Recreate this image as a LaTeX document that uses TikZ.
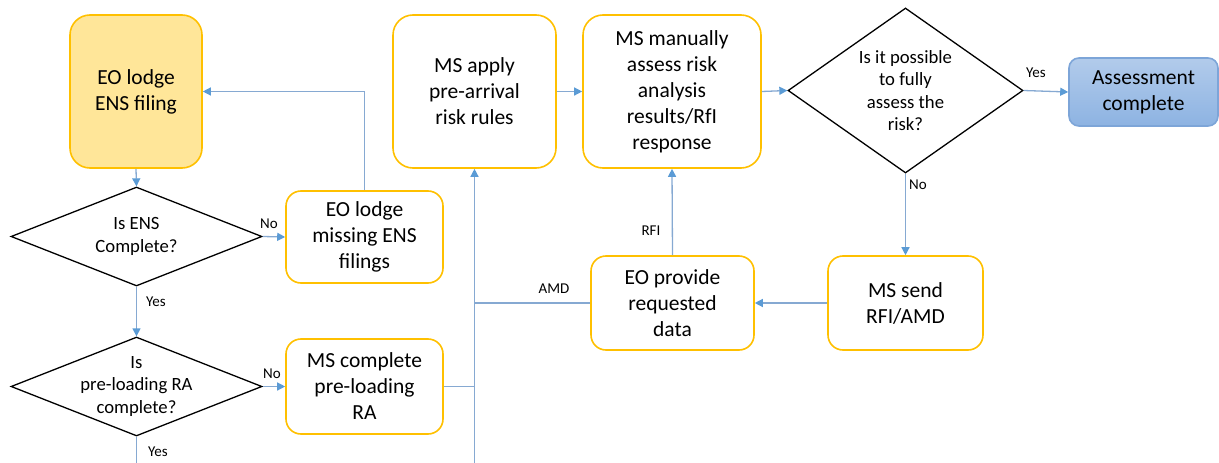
\documentclass[tikz,border=0pt]{standalone}
\usepackage{fontspec}
\setmainfont{Carlito}
\usetikzlibrary{shapes.geometric,arrows.meta}

\definecolor{gold}{HTML}{FFC000}
\definecolor{paleyellow}{HTML}{FFE699}
\definecolor{wireblue}{HTML}{86A9D2}
\definecolor{tipblue}{HTML}{5B9BD5}
\definecolor{donetop}{HTML}{B2CBEB}
\definecolor{donebottom}{HTML}{8DB3E2}
\definecolor{doneedge}{HTML}{7DA5D8}

\tikzset{
    process/.style={draw=gold, line width=1.6pt, rounded corners=15pt, fill=white,
        align=center, inner sep=0pt, font=\fontsize{21.5}{26}\selectfont},
    decision/.style={shape=diamond, draw=black, line width=1.3pt, inner sep=0pt},
    qtext/.style={align=center, inner sep=0pt, font=\fontsize{18.7}{22.4}\selectfont},
    lbl/.style={inner sep=0pt, font=\fontsize{15}{18}\selectfont},
    wire/.style={draw=wireblue, line width=1.3pt},
    flowarrow/.style={wire, -{Triangle[length=8pt,width=8pt,color=tipblue]}},
}

\begin{document}
\begin{tikzpicture}[x=1pt,y=-1pt]
    \useasboundingbox (0,0) rectangle (1219,463);

    \node[process, fill=paleyellow, rounded corners=20pt, minimum width=132, minimum height=153] (A) at (136,91.5) {EO lodge\\ENS filing};
    \node[decision, minimum width=251, minimum height=99] (Q1) at (136.5,236.5) {};
    \node[qtext] (Q1txt) at (Q1) {Is ENS\\Complete?};
    \node[process, minimum width=157, minimum height=92] (B) at (364.5,237) {EO lodge\\missing ENS\\filings};
    \node[decision, minimum width=251, minimum height=99] (Q2) at (136.5,386.5) {};
    \node[qtext] (Q2txt) at (Q2) {Is\\pre-loading RA\\complete?};
    \node[process, minimum width=157, minimum height=95] (C) at (364.5,386.5) {MS complete\\pre-loading\\RA};

    \node[process, rounded corners=20pt, minimum width=163, minimum height=153] (D) at (474.5,91.5) {MS apply\\pre-arrival\\risk rules};
    \node[process, rounded corners=20pt, minimum width=178, minimum height=153] (E) at (672,91.5) {MS manually\\assess risk\\analysis\\results/RfI\\response};
    \node[decision, minimum width=235, minimum height=165] (Q3) at (905.5,90.5) {};
    \node[qtext] (Q3txt) at (Q3) {Is it possible\\to fully\\assess the\\risk?};
    \node[process, draw=doneedge, top color=donetop, bottom color=donebottom, rounded corners=10pt,
        minimum width=149, minimum height=68] (F) at (1143.5,92) {Assessment\\complete};

    \node[process, minimum width=155, minimum height=94] (G) at (905.5,303) {MS send\\RFI/AMD};
    \node[process, minimum width=163, minimum height=94] (H) at (672.5,303) {EO provide\\requested\\data};

    \coordinate (trunk) at (474.5,463);
    \coordinate (q2end) at (136.5,463);

    % left column
    \draw[flowarrow] (A.south) -- (Q1.north);
    \draw[flowarrow] (Q1.east) -- (B.west);
    \draw[flowarrow] (B.north) |- (A.east);
    \draw[flowarrow] (Q1.south) -- (Q2.north);
    \draw[flowarrow] (Q2.east) -- (C.west);
    \draw[wire] (Q2.south) -- (q2end);
    \draw[wire] (C.east) -- (C.east -| trunk);

    % top row
    \draw[flowarrow] (trunk) -- (D.south);
    \draw[flowarrow] (D.east) -- (E.west);
    \draw[flowarrow] (E.east) -- (Q3.west);
    \draw[flowarrow] (Q3.east) -- (F.west);

    % request loop
    \draw[flowarrow] (Q3.south) -- (G.north);
    \draw[flowarrow] (G.west) -- (H.east);
    \draw[flowarrow] (H.north) -- (E.south);
    \draw[wire] (H.west) -- (H.west -| trunk);

    \node[lbl] (no1) at (269,224) {No};
    \node[lbl] (yes1) at (156,302) {Yes};
    \node[lbl] (no2) at (272,374) {No};
    \node[lbl] (yes2) at (158,452) {Yes};
    \node[lbl] (rfi) at (651,231) {RFI};
    \node[lbl] (amd) at (554,289) {AMD};
    \node[lbl] (yes3) at (1036,73) {Yes};
    \node[lbl] (no3) at (918,185) {No};
\end{tikzpicture}
\end{document}
